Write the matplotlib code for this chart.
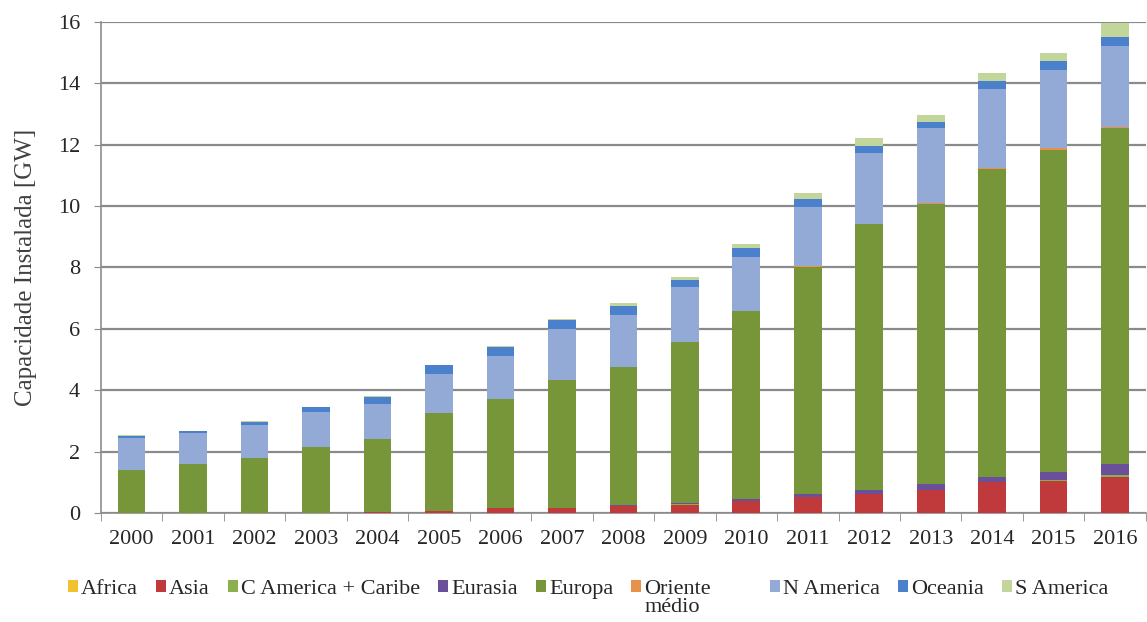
import matplotlib.pyplot as plt
import numpy as np

plt.rcParams['font.family'] = ['Liberation Serif', 'DejaVu Serif']

years = ['2000', '2001', '2002', '2003', '2004', '2005', '2006', '2007', '2008',
         '2009', '2010', '2011', '2012', '2013', '2014', '2015', '2016']

africa = [0.0, 0.0, 0.0, 0.0, 0.0, 0.0, 0.0, 0.0, 0.0,
          0.0, 0.01, 0.01, 0.01, 0.01, 0.01, 0.01, 0.02]
asia = [0.0, 0.0, 0.0, 0.01, 0.04, 0.06, 0.18, 0.18, 0.24,
        0.28, 0.38, 0.50, 0.60, 0.73, 1.00, 1.03, 1.16]
c_america = [0.0, 0.0, 0.0, 0.0, 0.0, 0.0, 0.0, 0.0, 0.0,
             0.01, 0.02, 0.02, 0.02, 0.03, 0.02, 0.05, 0.05]
eurasia = [0.0, 0.0, 0.0, 0.0, 0.0, 0.0, 0.0, 0.0, 0.01,
           0.04, 0.06, 0.10, 0.11, 0.19, 0.15, 0.26, 0.37]
europa = [1.40, 1.60, 1.78, 2.13, 2.38, 3.19, 3.55, 4.15, 4.52,
          5.25, 6.10, 7.40, 8.68, 9.12, 10.04, 10.48, 10.95]
oriente = [0.0, 0.0, 0.0, 0.0, 0.0, 0.0, 0.0, 0.0, 0.0,
           0.0, 0.0, 0.01, 0.01, 0.01, 0.02, 0.05, 0.03]
n_america = [1.04, 1.00, 1.08, 1.15, 1.13, 1.28, 1.38, 1.65, 1.68,
             1.79, 1.78, 1.94, 2.31, 2.44, 2.56, 2.56, 2.63]
oceania = [0.08, 0.08, 0.12, 0.16, 0.24, 0.29, 0.30, 0.30, 0.30,
           0.22, 0.27, 0.25, 0.22, 0.22, 0.27, 0.28, 0.29]
s_america = [0.01, 0.01, 0.01, 0.01, 0.01, 0.01, 0.02, 0.03, 0.08,
             0.10, 0.14, 0.18, 0.24, 0.21, 0.25, 0.27, 0.47]

series = [
    ('Africa', africa, '#F2C12E'),
    ('Asia', asia, '#C0393B'),
    ('C America + Caribe', c_america, '#8CB04E'),
    ('Eurasia', eurasia, '#6A4F9B'),
    ('Europa', europa, '#77963A'),
    ('Oriente', oriente, '#E8914A'),
    ('N America', n_america, '#93AAD6'),
    ('Oceania', oceania, '#4A80CC'),
    ('S America', s_america, '#C2D69B'),
]

fig, ax = plt.subplots(figsize=(11.47, 6.22), dpi=100)
fig.subplots_adjust(left=0.088, right=0.999, top=0.965, bottom=0.175)

x = np.arange(len(years))
bottom = np.zeros(len(years))
bars = []
for name, vals, color in series:
    b = ax.bar(x, vals, 0.45, bottom=bottom, color=color, label=name, zorder=3)
    bars.append(b)
    bottom += np.array(vals)

ax.set_xlim(-0.5, len(years) - 0.5)
ax.set_ylim(0, 16)
ax.set_yticks(range(0, 17, 2))
ax.set_xticks(x)
ax.set_xticklabels(years)
ax.set_xticks(np.arange(-0.5, len(years), 1), minor=True)
ax.tick_params(axis='x', which='major', length=0, pad=12, labelsize=16, labelcolor='#262626')
ax.tick_params(axis='x', which='minor', length=6, color='#888888', direction='out')
ax.tick_params(axis='y', length=5, color='#888888', labelsize=16, labelcolor='#262626', pad=10)

ax.grid(axis='y', color='#8a8a8a', linewidth=1.6, zorder=0)
for s in ['top', 'right']:
    ax.spines[s].set_visible(False)
for s in ['left', 'bottom']:
    ax.spines[s].set_color('#8c8c8c')
    ax.spines[s].set_linewidth(1.2)

ax.set_ylabel('Capacidade Instalada [GW]', fontsize=18, color='#404040', labelpad=15)

leg_kw = dict(frameon=False, fontsize=16, handlelength=0.45, handleheight=0.45,
              handletextpad=0.15, columnspacing=0.8, borderpad=0, borderaxespad=0,
              loc='center left', bbox_transform=fig.transFigure, labelcolor='#262626')
names = [s[0] for s in series]
leg1 = ax.legend(bars[:6], names[:6], ncol=6, bbox_to_anchor=(0.059, 0.053), **leg_kw)
ax.add_artist(leg1)
leg2 = ax.legend(bars[6:], names[6:], ncol=3, bbox_to_anchor=(0.671, 0.053), **leg_kw)

# second line of the "Oriente médio" legend label
fig.canvas.draw()
bb = leg1.get_texts()[-1].get_window_extent()
fig.text(bb.x0 / fig.bbox.width, (bb.y0 + 1) / fig.bbox.height, 'médio',
         ha='left', va='top', fontsize=16, color='#262626')

plt.savefig('out.png')
